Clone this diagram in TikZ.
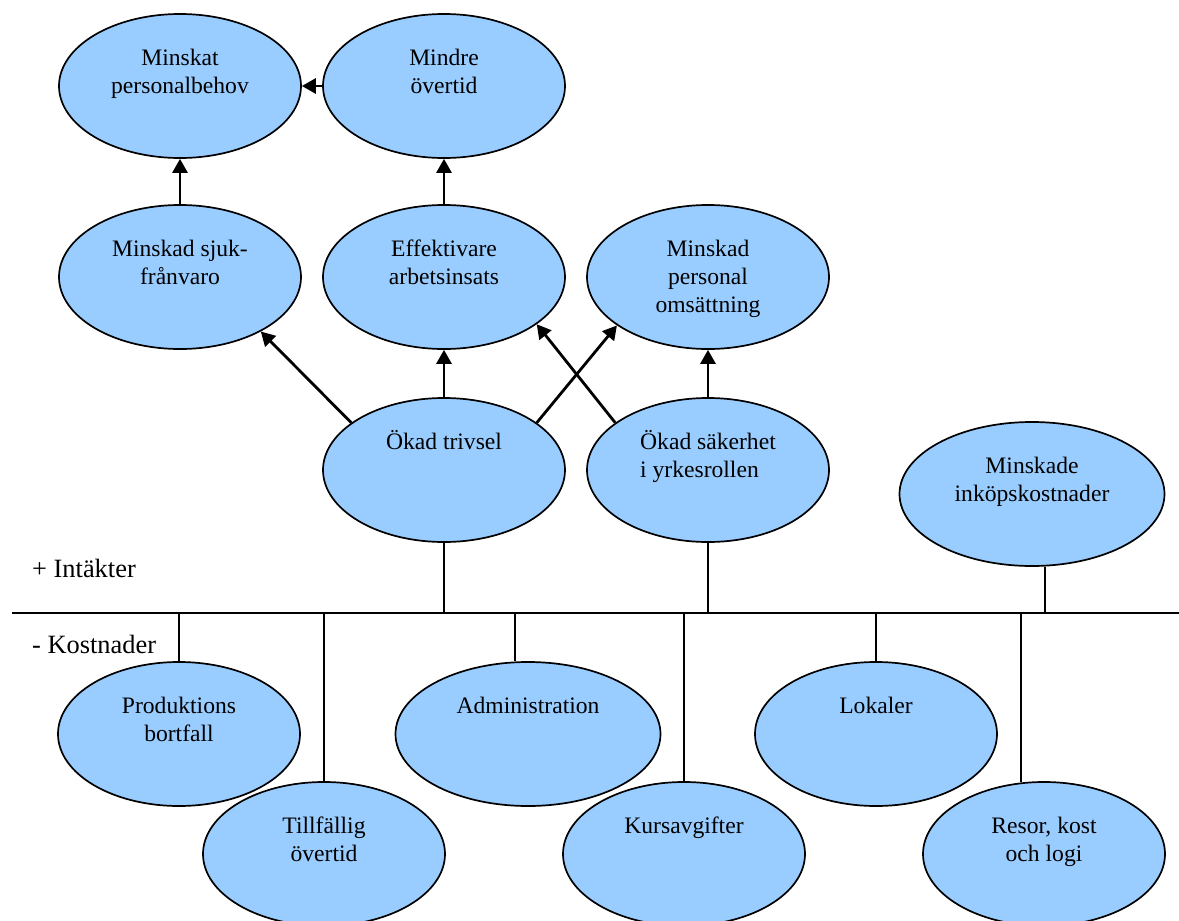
\documentclass[tikz,border=0pt]{standalone}
\usepackage{fontspec}
\setmainfont{Liberation Serif}
\usetikzlibrary{shapes.geometric,arrows.meta}
\definecolor{bubble}{RGB}{153,204,255}
\begin{document}
\begin{tikzpicture}[x=1pt,y=-1pt,
  oval/.style={ellipse, draw=black, line width=1.7pt, fill=bubble,
    minimum width=242pt, minimum height=144pt, inner sep=0pt},
  wideoval/.style={oval, minimum width=265pt},
  txt/.style={anchor=north, inner sep=0pt, align=center,
    font=\fontsize{23.6}{28}\selectfont},
  side/.style={anchor=base west, inner sep=0pt,
    font=\fontsize{26.4}{30}\selectfont},
  causal/.style={line width=2.8pt, -{Triangle[length=14pt,width=15pt]}},
  tie/.style={line width=1.6pt},
]
\useasboundingbox (0,0) rectangle (1179,921);

% effects (upper half)
\node[oval] (pb) at (180,86)  {};
\node[oval] (mo) at (444,86)  {};
\node[oval] (sf) at (180,277) {};
\node[oval] (ea) at (444,277) {};
\node[oval] (po) at (708,277) {};
\node[oval] (tr) at (444,470) {};
\node[oval] (sa) at (708,470) {};
\node[wideoval] (ik) at (1032,494) {};

% costs (lower half)
\node[oval] (pr) at (179,734) {};
\node[oval] (to) at (324,854) {};
\node[wideoval] (ad) at (528,734) {};
\node[oval] (ku) at (684,854) {};
\node[oval] (lo) at (876,734) {};
\node[oval] (re) at (1044,854) {};

% captions, set near the top of each oval
\node[txt] (pbt) at ([yshift=-28pt]pb.north) {\rule{0pt}{24pt}Minskat\\personalbehov};
\node[txt] (mot) at ([yshift=-28pt]mo.north) {\rule{0pt}{24pt}Mindre\\övertid};
\node[txt] (sft) at ([yshift=-28pt]sf.north) {\rule{0pt}{24pt}Minskad sjuk-\\frånvaro};
\node[txt] (eat) at ([yshift=-28pt]ea.north) {\rule{0pt}{24pt}Effektivare\\arbetsinsats};
\node[txt] (pot) at ([yshift=-28pt]po.north) {\rule{0pt}{24pt}Minskad\\personal\\omsättning};
\node[txt] (trt) at ([yshift=-28pt]tr.north) {\rule{0pt}{24pt}Ökad trivsel};
\node[txt, align=left] (sat) at ([yshift=-28pt]sa.north) {\rule{0pt}{24pt}Ökad säkerhet\\i yrkesrollen};
\node[txt] (ikt) at ([yshift=-28pt]ik.north) {\rule{0pt}{24pt}Minskade\\inköpskostnader};
\node[txt] (prt) at ([yshift=-28pt]pr.north) {\rule{0pt}{24pt}Produktions\\bortfall};
\node[txt] (tot) at ([yshift=-28pt]to.north) {\rule{0pt}{24pt}Tillfällig\\övertid};
\node[txt] (adt) at ([yshift=-28pt]ad.north) {\rule{0pt}{24pt}Administration};
\node[txt] (kut) at ([yshift=-28pt]ku.north) {\rule{0pt}{24pt}Kursavgifter};
\node[txt] (lot) at ([yshift=-28pt]lo.north) {\rule{0pt}{24pt}Lokaler};
\node[txt] (ret) at ([yshift=-28pt]re.north) {\rule{0pt}{24pt}Resor, kost\\och logi};

% side headings
\node[side] (plus) at (32,577) {+ Intäkter};
\node[side] (minus) at (32,653) {- Kostnader};

% cause and effect arrows
\draw[causal] (sf.north) -- (pb.south);
\draw[causal] (ea.north) -- (mo.south);
\draw[causal] (mo.west) -- (pb.east);
\draw[causal] (tr.north) -- (ea.south);
\draw[causal] (tr.153) -- (sf.-34);
\draw[causal] (tr.27) -- (po.-152);
\draw[causal] (sa.153) -- (ea.-27);
\draw[causal] (sa.north) -- (po.south);

% income / cost axis
\coordinate (axL) at (12,613);
\coordinate (axR) at (1179,613);
\draw[tie] (axL) -- (axR);

% ties from the ovals to the axis
\draw[tie] (tr.south) -- (tr.south |- axL);
\draw[tie] (sa.south) -- (sa.south |- axL);
\draw[tie] (ik.-80) -- (ik.-80 |- axL);
\draw[tie] (pr.north) -- (pr.north |- axL);
\draw[tie] (to.north) -- (to.north |- axL);
\draw[tie] (ad.100) -- (ad.100 |- axL);
\draw[tie] (ku.north) -- (ku.north |- axL);
\draw[tie] (lo.north) -- (lo.north |- axL);
\draw[tie] (re.108) -- (re.108 |- axL);
\end{tikzpicture}
\end{document}
